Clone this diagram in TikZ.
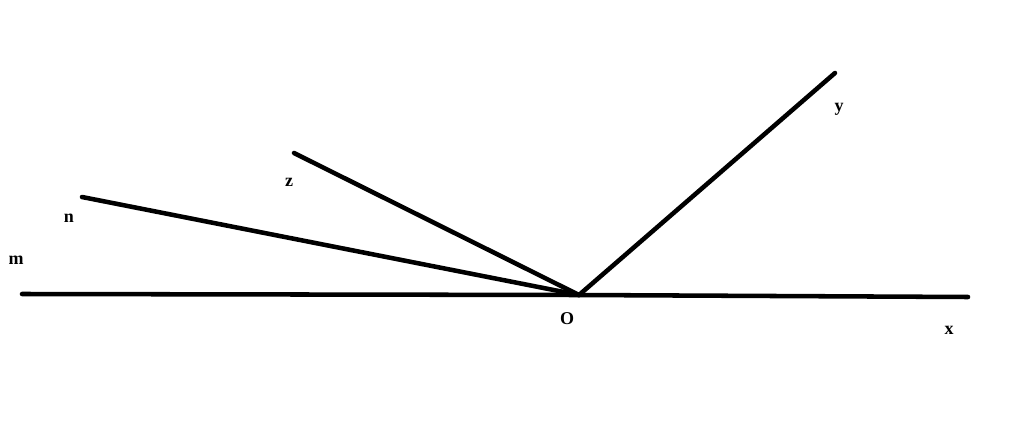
\documentclass[tikz,border=0pt]{standalone}
\usepackage{fontspec}
\setmainfont{Liberation Serif}
\begin{document}
\begin{tikzpicture}[x=0.75pt,y=-0.75pt,
	ray/.style={line width=3.4pt,line cap=round},
	lbl/.style={font=\fontsize{13.5}{15}\selectfont\bfseries,inner sep=0pt}]
	\useasboundingbox (0,0) rectangle (1024,431);
	\path (579,295) coordinate (O)
	(22,294) coordinate (M)
	(968,297) coordinate (X)
	(835,73) coordinate (Y)
	(294,153) coordinate (Z)
	(82,197) coordinate (N);
	\draw[ray] (M) -- (O);
	\draw[ray] (O) -- (X);
	\draw[ray] (O) -- (Y);
	\draw[ray] (O) -- (Z);
	\draw[ray] (O) -- (N);
	\node[lbl] (lm) at (16,260) {m};
	\node[lbl] (ln) at (69,218) {n};
	\node[lbl] (lz) at (289,182) {z};
	\node[lbl] (ly) at (839,109) {y};
	\node[lbl] (lo) at (567,319) {O};
	\node[lbl] (lx) at (949,330) {x};
\end{tikzpicture}
\end{document}
